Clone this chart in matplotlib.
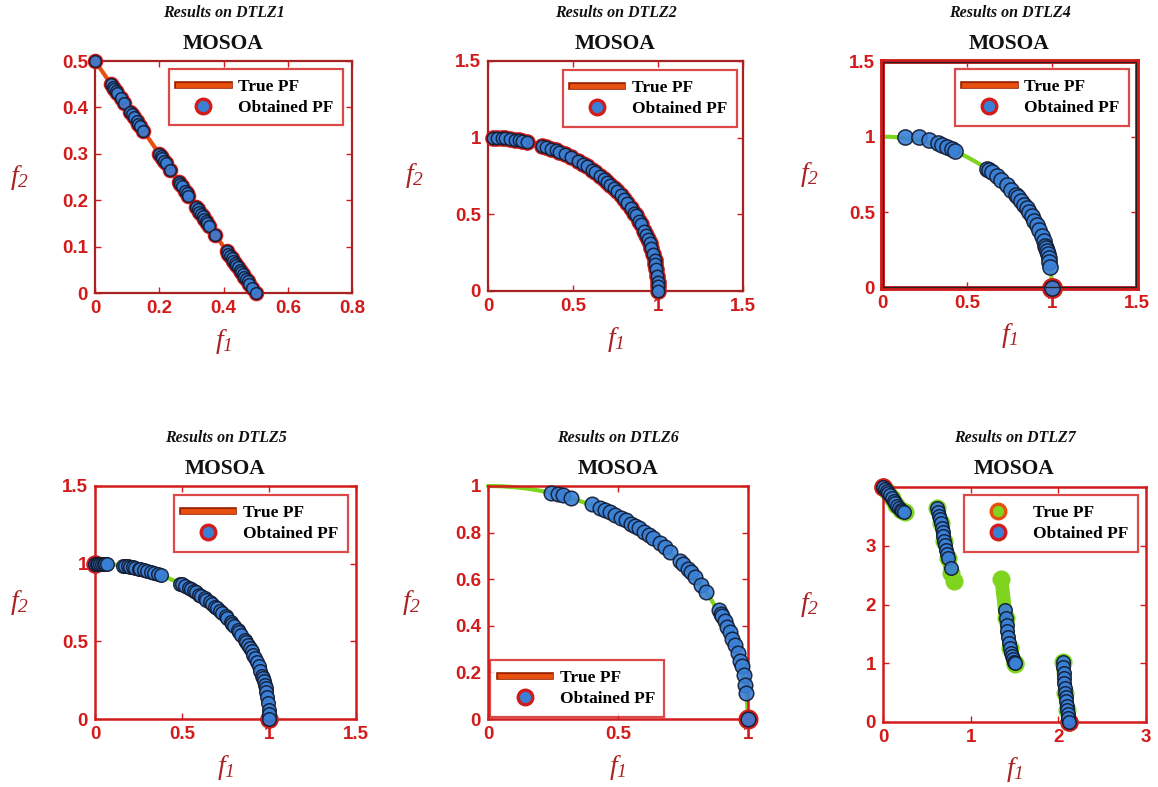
import matplotlib
matplotlib.use("Agg")
import matplotlib.pyplot as plt
import matplotlib.patheffects as pe
from matplotlib.lines import Line2D
from matplotlib.patches import Rectangle
from matplotlib.ticker import FuncFormatter

# ---------------- data ----------------
problems = ["DTLZ1", "DTLZ2", "DTLZ4", "DTLZ5", "DTLZ6", "DTLZ7"]
algo_name = "MOSOA"
legend_labels = ["True PF", "Obtained PF"]

# DTLZ1 (linear front)
dtlz1_true_f1 = [0.0, 0.5]
dtlz1_true_f2 = [0.5, 0.0]
dtlz1_f1 = [0.0, 0.05, 0.055, 0.06, 0.065, 0.07, 0.08, 0.09, 0.11, 0.115, 0.12, 0.13, 0.135,
            0.14, 0.15, 0.20, 0.205, 0.21, 0.215, 0.22, 0.235, 0.26, 0.265, 0.27, 0.28, 0.285,
            0.29, 0.315, 0.32, 0.325, 0.33, 0.335, 0.34, 0.345, 0.35, 0.355, 0.375, 0.41, 0.415,
            0.42, 0.425, 0.43, 0.435, 0.44, 0.445, 0.45, 0.455, 0.46, 0.465, 0.47, 0.475, 0.48,
            0.49, 0.5]
dtlz1_f2 = [0.5, 0.45, 0.445, 0.44, 0.435, 0.43, 0.42, 0.41, 0.39, 0.385, 0.38, 0.37, 0.365,
            0.36, 0.35, 0.30, 0.295, 0.29, 0.285, 0.28, 0.265, 0.24, 0.235, 0.23, 0.22, 0.215,
            0.21, 0.185, 0.18, 0.175, 0.17, 0.165, 0.16, 0.155, 0.15, 0.145, 0.125, 0.09, 0.085,
            0.08, 0.075, 0.07, 0.065, 0.06, 0.055, 0.05, 0.045, 0.04, 0.035, 0.03, 0.025, 0.02,
            0.01, 0.0]

# quarter-circle true front (DTLZ2/4/5/6)
arc_f1 = [0.0, 0.05, 0.1, 0.15, 0.2, 0.25, 0.3, 0.35, 0.4, 0.45, 0.5, 0.55, 0.6, 0.65, 0.7,
          0.75, 0.8, 0.85, 0.9, 0.95, 0.98, 0.995, 1.0]
arc_f2 = [1.0, 0.999, 0.995, 0.989, 0.980, 0.968, 0.954, 0.937, 0.917, 0.893, 0.866, 0.835,
          0.800, 0.760, 0.714, 0.661, 0.600, 0.527, 0.436, 0.312, 0.199, 0.100, 0.0]

dtlz2_f1 = [0.03, 0.05, 0.08, 0.10, 0.13, 0.16, 0.18, 0.20, 0.23, 0.32, 0.34, 0.37, 0.40, 0.42,
            0.45, 0.49, 0.53, 0.56, 0.58, 0.61, 0.63, 0.66, 0.68, 0.70, 0.72, 0.74, 0.76, 0.78,
            0.80, 0.82, 0.84, 0.86, 0.87, 0.89, 0.90, 0.92, 0.93, 0.94, 0.95, 0.96, 0.97, 0.98,
            0.985, 0.99, 0.995, 1.0, 1.0, 1.0]
dtlz2_f2 = [1.0, 0.999, 0.997, 0.995, 0.992, 0.987, 0.984, 0.980, 0.973, 0.947, 0.940, 0.929,
            0.917, 0.908, 0.893, 0.872, 0.848, 0.828, 0.815, 0.792, 0.777, 0.751, 0.733, 0.714,
            0.694, 0.673, 0.650, 0.626, 0.600, 0.572, 0.543, 0.510, 0.493, 0.456, 0.436, 0.392,
            0.368, 0.341, 0.312, 0.280, 0.243, 0.199, 0.173, 0.141, 0.100, 0.06, 0.03, 0.0]

dtlz4_f1 = [0.136, 0.217, 0.276, 0.33, 0.35, 0.38, 0.41, 0.43, 0.615, 0.63, 0.645, 0.675, 0.70,
            0.734, 0.76, 0.79, 0.80, 0.82, 0.835, 0.85, 0.865, 0.88, 0.895, 0.91, 0.925, 0.94,
            0.95, 0.96, 0.965, 0.97, 0.975, 0.98, 0.985, 0.99, 1.0]
dtlz4_f2 = [1.0, 0.996, 0.978, 0.956, 0.947, 0.930, 0.918, 0.905, 0.789, 0.777, 0.764, 0.738,
            0.714, 0.679, 0.650, 0.613, 0.600, 0.572, 0.550, 0.527, 0.502, 0.475, 0.446, 0.415,
            0.380, 0.341, 0.312, 0.280, 0.262, 0.243, 0.222, 0.199, 0.173, 0.141, 0.0]

dtlz5_f1 = [0.0, 0.01, 0.02, 0.03, 0.04, 0.05, 0.06, 0.07, 0.16, 0.17, 0.19, 0.20, 0.22, 0.23,
            0.25, 0.26, 0.28, 0.30, 0.32, 0.34, 0.36, 0.38, 0.49, 0.50, 0.52, 0.54, 0.55, 0.57,
            0.58, 0.60, 0.61, 0.63, 0.64, 0.66, 0.67, 0.69, 0.70, 0.72, 0.73, 0.75, 0.76, 0.78,
            0.79, 0.80, 0.82, 0.83, 0.84, 0.86, 0.87, 0.88, 0.89, 0.90, 0.91, 0.92, 0.93, 0.94,
            0.95, 0.96, 0.965, 0.97, 0.975, 0.98, 0.985, 0.99, 0.995, 1.0, 1.0, 1.0]
dtlz5_f2 = [1.0, 1.0, 1.0, 0.999, 0.999, 0.999, 0.998, 0.998, 0.987, 0.985, 0.982, 0.980, 0.976,
            0.973, 0.968, 0.966, 0.960, 0.954, 0.947, 0.940, 0.933, 0.925, 0.872, 0.866, 0.854,
            0.842, 0.835, 0.822, 0.815, 0.800, 0.792, 0.777, 0.768, 0.751, 0.742, 0.724, 0.714,
            0.694, 0.683, 0.661, 0.650, 0.626, 0.613, 0.600, 0.572, 0.558, 0.543, 0.510, 0.493,
            0.475, 0.456, 0.436, 0.415, 0.392, 0.368, 0.341, 0.312, 0.280, 0.262, 0.243, 0.222,
            0.199, 0.173, 0.141, 0.100, 0.06, 0.03, 0.0]

dtlz6_f1 = [0.244, 0.27, 0.29, 0.32, 0.40, 0.43, 0.45, 0.47, 0.49, 0.51, 0.53, 0.55, 0.566, 0.58,
            0.60, 0.62, 0.636, 0.66, 0.68, 0.70, 0.74, 0.75, 0.77, 0.78, 0.797, 0.82, 0.84, 0.887,
            0.895, 0.90, 0.91, 0.92, 0.93, 0.94, 0.95, 0.96, 0.97, 0.975, 0.983, 0.99, 0.994, 1.0]
dtlz6_f2 = [0.972, 0.966, 0.960, 0.950, 0.922, 0.907, 0.897, 0.887, 0.876, 0.864, 0.852, 0.839,
            0.828, 0.819, 0.804, 0.789, 0.776, 0.755, 0.737, 0.718, 0.677, 0.665, 0.642, 0.630,
            0.608, 0.576, 0.547, 0.466, 0.450, 0.440, 0.419, 0.396, 0.372, 0.345, 0.316, 0.284,
            0.247, 0.226, 0.188, 0.145, 0.112, 0.0]

# DTLZ7 (disconnected front)
dtlz7_true_f1 = [0.0, 0.05, 0.10, 0.15, 0.20, 0.25,
                 0.62, 0.66, 0.70, 0.74, 0.78, 0.81,
                 1.35, 1.40, 1.45, 1.50, 1.51,
                 2.05, 2.08, 2.10, 2.116]
dtlz7_true_f2 = [4.0, 3.927, 3.819, 3.702, 3.610, 3.573,
                 3.644, 3.382, 3.084, 2.789, 2.537, 2.399,
                 2.439, 1.777, 1.258, 1.0, 0.986,
                 1.019, 0.495, 0.201, 0.0]
dtlz7_f1 = [0.0, 0.02, 0.04, 0.06, 0.08, 0.10, 0.12, 0.14, 0.16, 0.18, 0.20, 0.22, 0.24,
            0.62, 0.63, 0.64, 0.65, 0.66, 0.67, 0.68, 0.69, 0.70, 0.71, 0.72, 0.73, 0.74, 0.77,
            1.39, 1.40, 1.41, 1.42, 1.43, 1.44, 1.45, 1.46, 1.47, 1.48, 1.49, 1.50,
            2.05, 2.055, 2.06, 2.065, 2.07, 2.075, 2.08, 2.085, 2.09, 2.095, 2.10, 2.105, 2.11, 2.116]
dtlz7_f2 = [4.0, 3.97, 3.94, 3.90, 3.86, 3.82, 3.77, 3.73, 3.68, 3.64, 3.61, 3.59, 3.58,
            3.64, 3.58, 3.51, 3.45, 3.38, 3.31, 3.23, 3.16, 3.08, 3.01, 2.93, 2.86, 2.79, 2.62,
            1.902, 1.777, 1.658, 1.545, 1.440, 1.343, 1.258, 1.182, 1.119, 1.067, 1.026, 1.0,
            1.02, 0.93, 0.84, 0.75, 0.67, 0.58, 0.50, 0.42, 0.35, 0.27, 0.20, 0.13, 0.07, 0.0]

xlims = [(0, 0.8), (0, 1.5), (0, 1.5), (0, 1.5), (0, 1.0), (0, 3)]
ylims = [(0, 0.5), (0, 1.5), (0, 1.5), (0, 1.5), (0, 1.0), (0, 4)]
xticks = [[0, 0.2, 0.4, 0.6, 0.8], [0, 0.5, 1, 1.5], [0, 0.5, 1, 1.5], [0, 0.5, 1, 1.5],
          [0, 0.5, 1], [0, 1, 2, 3]]
yticks = [[0, 0.1, 0.2, 0.3, 0.4, 0.5], [0, 0.5, 1, 1.5], [0, 0.5, 1, 1.5], [0, 0.5, 1, 1.5],
          [0, 0.2, 0.4, 0.6, 0.8, 1], [0, 1, 2, 3]]

# ---------------- style ----------------
W, H = 1158, 787
plt.rcParams['mathtext.fontset'] = 'custom'
plt.rcParams['mathtext.it'] = 'Liberation Serif:italic'
plt.rcParams['mathtext.rm'] = 'Liberation Serif:italic'

RED = '#d21c1c'
DARKRED = '#a82222'
BLUE = '#3a80d6'
EDGE = '#121a30'
GREEN = '#7fd41e'
ORANGE = '#e8500f'
SERIF = 'Liberation Serif'
SANS = 'Liberation Sans'

fig = plt.figure(figsize=(W / 100, H / 100), dpi=100)
fig.patch.set_facecolor('white')

# axes boxes in pixels: left, top, right, bottom
boxes = [(95, 61, 352, 293), (488, 61, 743, 291), (882, 61, 1137, 288),
         (95, 486, 356, 719), (488, 486, 748, 719), (883, 487, 1146, 722)]
f2_label_x = [20, 415, 810, 20, 412, 810]
legend_anchor = [(0.965, 0.966), (0.976, 0.961), (0.969, 0.965), (0.969, 0.961),
                 (0.008, 0.009), (0.97, 0.966)]
legend_loc = ['upper right'] * 4 + ['lower left', 'upper right']
msize = [70, 80, 120, 95, 110, 95]
spine_lw = [1.6, 1.6, 3.5, 1.8, 1.8, 1.8]
spine_col = [DARKRED, DARKRED, RED, RED, RED, RED]


def fmt(v, pos):
    return '%g' % v


axes = []
for i, (l, t, r, b) in enumerate(boxes):
    ax = fig.add_axes([l / W, 1 - b / H, (r - l) / W, (b - t) / H])
    axes.append(ax)
    ax.set_xlim(*xlims[i])
    ax.set_ylim(*ylims[i])
    ax.set_xticks(xticks[i])
    ax.set_yticks(yticks[i])
    ax.xaxis.set_major_formatter(FuncFormatter(fmt))
    ax.yaxis.set_major_formatter(FuncFormatter(fmt))
    ax.tick_params(direction='in', top=True, right=True, length=4, width=1,
                   color=RED, labelcolor=RED, labelsize=13.5, pad=5)
    for lab in ax.get_xticklabels() + ax.get_yticklabels():
        lab.set_fontfamily(SANS)
        lab.set_fontweight('bold')
    for sp in ax.spines.values():
        sp.set_color(spine_col[i])
        sp.set_linewidth(spine_lw[i])
    # titles
    cx = (l + r) / 2
    ytop = 13 if i < 3 else 438
    fig.text(cx / W, 1 - ytop / H, 'Results on ' + problems[i], ha='center', va='center',
             fontfamily=SERIF, fontweight='bold', fontstyle='italic', fontsize=11.5, color='#111111')
    fig.text(cx / W, 1 - (ytop + 31) / H, algo_name, ha='center', va='center',
             fontfamily=SERIF, fontweight='bold', fontsize=15.5, color='#111111')
    # axis labels
    fig.text(cx / W, 1 - (b + 48) / H, r'$f_1$', ha='center', va='center',
             fontsize=20, color=DARKRED)
    fig.text(f2_label_x[i] / W, 1 - ((t + b) / 2) / H, r'$f_2$', ha='center', va='center',
             fontsize=20, color=DARKRED)

# thin black inner frame seen on the DTLZ4 panel
axes[2].add_patch(Rectangle((0.004, 0.005), 0.992, 0.99, transform=axes[2].transAxes,
                            fill=False, edgecolor='#222222', lw=0.9, zorder=5, clip_on=False))


def pf_line(ax, x, y, color):
    ax.plot(x, y, color=color, lw=3, solid_capstyle='round', zorder=2, clip_on=False)


def obtained(ax, x, y, s, glow_idx=None, glow_all=False):
    if glow_all:
        ax.scatter(x, y, s=s * 1.8, color=RED, linewidths=0, zorder=3, clip_on=False)
    elif glow_idx:
        ax.scatter([x[k] for k in glow_idx], [y[k] for k in glow_idx], s=s * 1.9,
                   color=RED, linewidths=0, zorder=3, clip_on=False)
    ax.scatter(x, y, s=s, facecolor=BLUE, edgecolor=EDGE, linewidths=1.1, alpha=0.9,
               zorder=4, clip_on=False)


# DTLZ1
pf_line(axes[0], dtlz1_true_f1, dtlz1_true_f2, ORANGE)
obtained(axes[0], dtlz1_f1, dtlz1_f2, msize[0], glow_all=True)
# DTLZ2
pf_line(axes[1], arc_f1, arc_f2, RED)
obtained(axes[1], dtlz2_f1, dtlz2_f2, msize[1], glow_all=True)
# DTLZ4
pf_line(axes[2], arc_f1, arc_f2, GREEN)
obtained(axes[2], dtlz4_f1, dtlz4_f2, msize[2], glow_idx=[len(dtlz4_f1) - 1])
# DTLZ5
pf_line(axes[3], arc_f1, arc_f2, GREEN)
obtained(axes[3], dtlz5_f1, dtlz5_f2, msize[3], glow_idx=[0, len(dtlz5_f1) - 1])
# DTLZ6
pf_line(axes[4], arc_f1, arc_f2, GREEN)
obtained(axes[4], dtlz6_f1, dtlz6_f2, msize[4], glow_idx=[len(dtlz6_f1) - 1])
# DTLZ7
axes[5].scatter(dtlz7_true_f1, dtlz7_true_f2, s=170, color=GREEN, linewidths=0, zorder=2,
                clip_on=False)
for k in range(0, len(dtlz7_true_f1) - 1):
    if dtlz7_true_f1[k + 1] - dtlz7_true_f1[k] < 0.2:
        axes[5].plot(dtlz7_true_f1[k:k + 2], dtlz7_true_f2[k:k + 2], color=GREEN, lw=10,
                     solid_capstyle='round', zorder=2)
obtained(axes[5], dtlz7_f1, dtlz7_f2, msize[5], glow_idx=[0, len(dtlz7_f1) - 1])

# legends
line_handle = Line2D([], [], color=ORANGE, lw=3.5,
                     path_effects=[pe.Stroke(linewidth=5.5, foreground='#9a2200'), pe.Normal()])
dot_handle = Line2D([], [], ls='none', marker='o', markersize=10.5, markerfacecolor=BLUE,
                    markeredgecolor=RED, markeredgewidth=2.4)
green_handle = Line2D([], [], ls='none', marker='o', markersize=10.5, markerfacecolor=GREEN,
                      markeredgecolor=ORANGE, markeredgewidth=2.4)
for i, ax in enumerate(axes):
    h0 = green_handle if i == 5 else line_handle
    leg = ax.legend([h0, dot_handle], legend_labels, loc=legend_loc[i],
                    bbox_to_anchor=legend_anchor[i], borderaxespad=0, frameon=True,
                    fancybox=False, handlelength=2.9, handletextpad=0.55, borderpad=0.55,
                    labelspacing=0.3, prop={'family': SERIF, 'weight': 'bold', 'size': 12.5})
    leg.get_frame().set_edgecolor(RED)
    leg.get_frame().set_linewidth(1.6)
    leg.set_zorder(10)

fig.savefig('out.png', dpi=100, facecolor='white')
